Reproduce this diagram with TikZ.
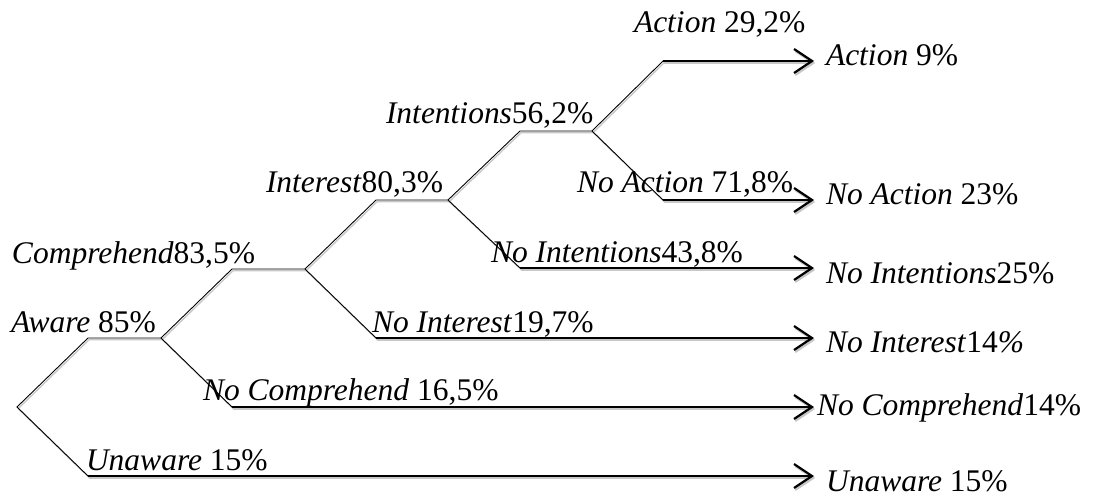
\documentclass[tikz,border=0pt]{standalone}
\usepackage{fontspec}
\setmainfont{Liberation Serif}
\usepackage{tikz}
\usetikzlibrary{arrows.meta}

\tikzset{
  branch/.style={line width=0.9pt, line cap=round,
    preaction={draw=black!22, line width=1.3pt, transform canvas={shift={(1.2pt,-1.6pt)}}}},
  outcome/.style={line width=2.2pt, -{Straight Barb[length=18pt,width=24pt]},
    preaction={draw=black!22, line width=2.2pt, transform canvas={shift={(1.2pt,-2pt)}}}},
  lbl/.style={inner sep=0, outer sep=0, anchor=base west}
}

\begin{document}
\begin{tikzpicture}[x=1pt,y=-1pt,font=\fontsize{31.5}{31.5}\selectfont]
  \useasboundingbox (0,0) rectangle (1093,496);
  % branch points
  \coordinate (root) at (17,407);
  \coordinate (aware) at (88,338);    \coordinate (awareE) at (161,338);
  \coordinate (unaware) at (88,476);  \coordinate (unawareE) at (814,476);
  \coordinate (comp) at (232,269);    \coordinate (compE) at (305,269);
  \coordinate (nocomp) at (232,407);  \coordinate (nocompE) at (814,407);
  \coordinate (inter) at (376,200);   \coordinate (interE) at (448,200);
  \coordinate (nointer) at (376,338); \coordinate (nointerE) at (814,338);
  \coordinate (intent) at (520,131);  \coordinate (intentE) at (592,131);
  \coordinate (nointent) at (520,268); \coordinate (nointentE) at (814,268);
  \coordinate (act) at (663,61);      \coordinate (actE) at (814,61);
  \coordinate (noact) at (663,200);   \coordinate (noactE) at (814,200);
  % tree
  \draw[branch] (root) -- (aware) -- (awareE) -- (comp) -- (compE) -- (inter) -- (interE)
    -- (intent) -- (intentE) -- (act);
  \draw[branch] (root) -- (unaware);
  \draw[branch] (awareE) -- (nocomp);
  \draw[branch] (compE) -- (nointer);
  \draw[branch] (interE) -- (nointent);
  \draw[branch] (intentE) -- (noact);
  % outcomes
  \draw[outcome] (act) -- (actE);
  \draw[outcome] (noact) -- (noactE);
  \draw[outcome] (nointent) -- (nointentE);
  \draw[outcome] (nointer) -- (nointerE);
  \draw[outcome] (nocomp) -- (nocompE);
  \draw[outcome] (unaware) -- (unawareE);
  % labels on the branches
  \node[lbl] (lAware) at (11,332) {\textit{Aware} 85\%};
  \node[lbl] (lUnaware) at (86,470) {\textit{Unaware} 15\%};
  \node[lbl] (lComp) at (12,263) {\textit{Comprehend}83,5\%};
  \node[lbl] (lNoComp) at (203,400) {\textit{No Comprehend} 16,5\%};
  \node[lbl] (lInter) at (266,192) {\textit{Interest}80,3\%};
  \node[lbl] (lNoInter) at (372,332) {\textit{No Interest}19,7\%};
  \node[lbl] (lIntent) at (386,123) {\textit{Intentions}56,2\%};
  \node[lbl] (lNoIntent) at (491,262) {\textit{No Intentions}43,8\%};
  \node[lbl] (lAct) at (634,32) {\textit{Action} 29,2\%};
  \node[lbl] (lNoAct) at (577,192) {\textit{No Action} 71,8\%};
  % end results
  \node[lbl] (rAct) at (826,65) {\textit{Action} 9\%};
  \node[lbl] (rNoAct) at (826,204) {\textit{No Action} 23\%};
  \node[lbl] (rNoIntent) at (826,283) {\textit{No Intentions}25\%};
  \node[lbl] (rNoInter) at (826,352) {\textit{No Interest}14\textit{\%}};
  \node[lbl] (rNoComp) at (817,415) {\textit{No Comprehend}14\%};
  \node[lbl] (rUnaware) at (826,491) {\textit{Unaware} 15\%};
\end{tikzpicture}
\end{document}
